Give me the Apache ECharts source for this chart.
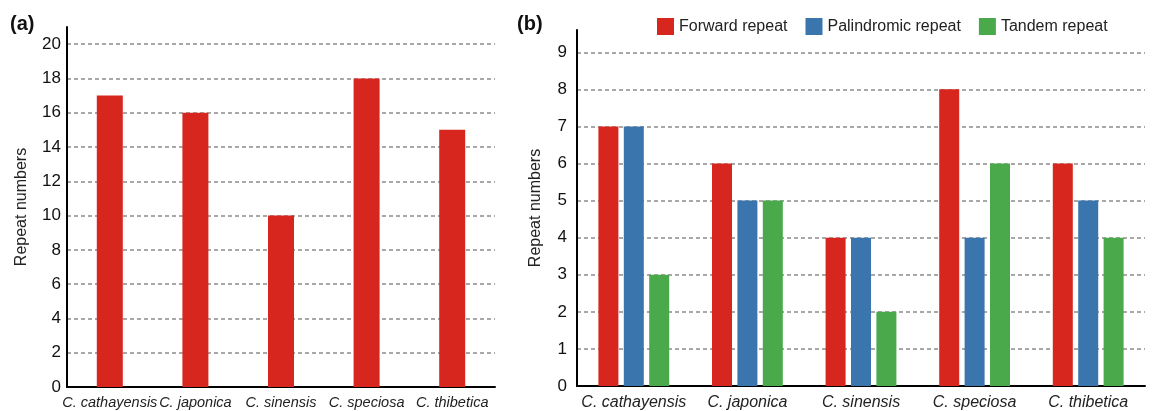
<!DOCTYPE html>
<html>
<head>
<meta charset="utf-8">
<script src="https://cdn.jsdelivr.net/npm/echarts@6/dist/echarts.min.js"></script>
<style>html,body{margin:0;padding:0;background:#fff}#c{width:1154px;height:411px}</style>
</head>
<body>
<div id="c"></div>
<script>
const species = ['C. cathayensis', 'C. japonica', 'C. sinensis', 'C. speciosa', 'C. thibetica'];
const totalRepeats = [17, 16, 10, 18, 15];
const forwardRepeat = [7, 6, 4, 8, 6];
const palindromicRepeat = [7, 5, 4, 4, 5];
const tandemRepeat = [3, 5, 2, 6, 4];
const seriesNames = ['Forward repeat', 'Palindromic repeat', 'Tandem repeat'];

const FONT = '"Liberation Sans", Arial, sans-serif';
const RED = '#d7261e', BLUE = '#3a75ad', GREEN = '#4aa94a';
const gridLine = { show: true, showMaxLine: false, lineStyle: { color: '#8c8c8c', width: 1.5, type: [4, 3] } };
const axisLine = { show: true, onZero: false, lineStyle: { color: '#000', width: 2 } };

const chart = echarts.init(document.getElementById('c'), null, { renderer: 'canvas' });
chart.setOption({
  animation: false,
  textStyle: { fontFamily: FONT },
  title: [
    { text: '(a)', left: 10, top: 14, padding: 0, textStyle: { fontFamily: FONT, fontSize: 20, fontWeight: 'bold', color: '#111' } },
    { text: '(b)', left: 517, top: 14, padding: 0, textStyle: { fontFamily: FONT, fontSize: 20, fontWeight: 'bold', color: '#111' } }
  ],
  legend: {
    data: seriesNames,
    left: 657, top: 18, padding: 0,
    itemWidth: 17, itemHeight: 17, itemGap: 18, icon: 'rect',
    textStyle: { fontFamily: FONT, fontSize: 16, color: '#222' }
  },
  grid: [
    { left: 67, top: 27, width: 428, height: 360 },
    { left: 577, top: 30, width: 568, height: 357 }
  ],
  xAxis: [
    { type: 'category', gridIndex: 0, data: species, axisLine: axisLine, axisTick: { show: false },
      axisLabel: { interval: 0, margin: 8, fontFamily: FONT, fontSize: 14.5, fontStyle: 'italic', color: '#222' } },
    { type: 'category', gridIndex: 1, data: species, axisLine: axisLine, axisTick: { show: false },
      axisLabel: { interval: 0, margin: 9, fontFamily: FONT, fontSize: 16, fontStyle: 'italic', color: '#222' } }
  ],
  yAxis: [
    { type: 'value', gridIndex: 0, min: 0, max: 21, interval: 2, axisLine: axisLine, axisTick: { show: false },
      splitLine: gridLine,
      axisLabel: { showMaxLabel: false, margin: 6, fontFamily: FONT, fontSize: 17, color: '#111' },
      name: 'Repeat numbers', nameLocation: 'middle', nameGap: 37,
      nameTextStyle: { fontFamily: FONT, fontSize: 16, color: '#222' } },
    { type: 'value', gridIndex: 1, min: 0, max: 9.6, interval: 1, axisLine: axisLine, axisTick: { show: false },
      splitLine: gridLine,
      axisLabel: { showMaxLabel: false, margin: 10, fontFamily: FONT, fontSize: 17, color: '#111' },
      name: 'Repeat numbers', nameLocation: 'middle', nameGap: 33,
      nameTextStyle: { fontFamily: FONT, fontSize: 16, color: '#222' } }
  ],
  series: [
    { type: 'bar', name: 'Total', xAxisIndex: 0, yAxisIndex: 0, data: totalRepeats, barWidth: 26,
      itemStyle: { color: RED } },
    { type: 'bar', name: seriesNames[0], xAxisIndex: 1, yAxisIndex: 1, data: forwardRepeat, barWidth: 20, barGap: '27%',
      itemStyle: { color: RED } },
    { type: 'bar', name: seriesNames[1], xAxisIndex: 1, yAxisIndex: 1, data: palindromicRepeat, barWidth: 20, barGap: '27%',
      itemStyle: { color: BLUE } },
    { type: 'bar', name: seriesNames[2], xAxisIndex: 1, yAxisIndex: 1, data: tandemRepeat, barWidth: 20, barGap: '27%',
      itemStyle: { color: GREEN } }
  ]
});
</script>
</body>
</html>
